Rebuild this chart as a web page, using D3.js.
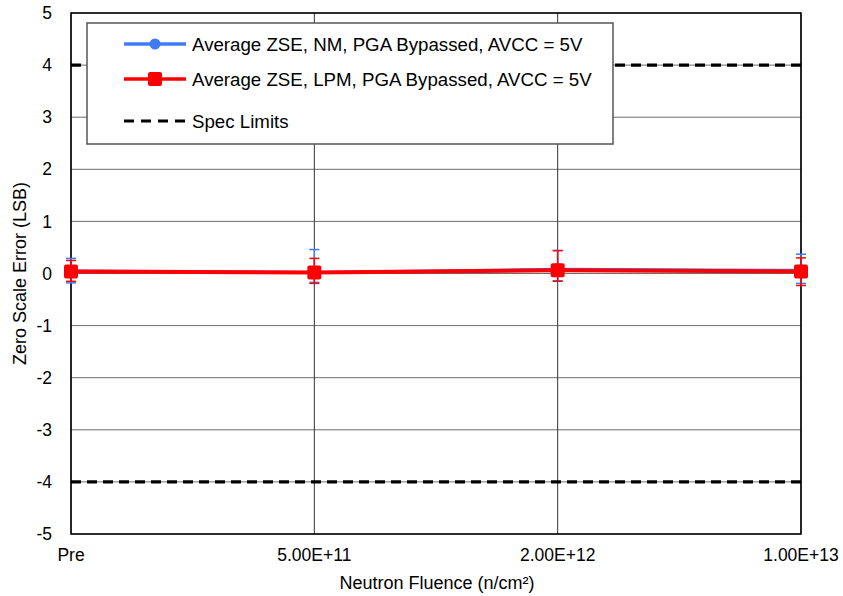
<!DOCTYPE html>
<html>
<head>
<meta charset="utf-8">
<script src="https://cdn.jsdelivr.net/npm/d3@7"></script>
<style>
  body { margin: 0; background: #fff; }
  text { font-family: "Liberation Sans", Arial, sans-serif; fill: #000; }
</style>
</head>
<body>
<div id="chart"></div>
<script>
var categories = ['Pre', '5.00E+11', '2.00E+12', '1.00E+13'];
var nmValues = [0.05, 0.02, 0.08, 0.06];
var nmUpper = [0.29, 0.46, 0.44, 0.37];
var nmLower = [-0.18, -0.17, -0.14, -0.19];
var lpmValues = [0.04, 0.02, 0.06, 0.04];
var lpmUpper = [0.25, 0.29, 0.44, 0.30];
var lpmLower = [-0.15, -0.19, -0.15, -0.23];
var specLimits = [4, -4];
var yTicks = [5, 4, 3, 2, 1, 0, -1, -2, -3, -4, -5];
var legendLabels = ['Average ZSE, NM, PGA Bypassed, AVCC = 5V',
                    'Average ZSE, LPM, PGA Bypassed, AVCC = 5V',
                    'Spec Limits'];

var margin = {top: 13, right: 42, bottom: 62, left: 71},
    width = 843 - margin.left - margin.right,
    height = 596 - margin.top - margin.bottom;

var svg = d3.select('#chart').append('svg')
    .attr('width', 843)
    .attr('height', 596)
    .append('g')
    .attr('transform', 'translate(' + margin.left + ',' + margin.top + ')');

var x = d3.scalePoint().domain(categories).range([0, width]);
var y = d3.scaleLinear().domain([-5, 5]).range([height, 0]);

// grid
svg.selectAll('.hgrid').data(yTicks).enter().append('line')
    .attr('x1', 0).attr('x2', width)
    .attr('y1', function(d){ return y(d); })
    .attr('y2', function(d){ return y(d); })
    .attr('stroke', '#6e6e6e').attr('stroke-width', 1);
svg.selectAll('.vgrid').data(categories).enter().append('line')
    .attr('x1', function(d){ return x(d); })
    .attr('x2', function(d){ return x(d); })
    .attr('y1', 0).attr('y2', height)
    .attr('stroke', '#333').attr('stroke-width', 1);

// frame
svg.append('rect').attr('width', width).attr('height', height)
    .attr('fill', 'none').attr('stroke', '#000').attr('stroke-width', 1.5);

// spec limits
svg.selectAll('.spec').data(specLimits).enter().append('line')
    .attr('x1', 0).attr('x2', width)
    .attr('y1', function(d){ return y(d); })
    .attr('y2', function(d){ return y(d); })
    .attr('stroke', '#000').attr('stroke-width', 3.2)
    .attr('stroke-dasharray', '10,6');

// axis labels
svg.selectAll('.ylab').data(yTicks).enter().append('text')
    .attr('x', -19).attr('y', function(d){ return y(d); })
    .attr('dy', '0.35em').attr('text-anchor', 'end')
    .style('font-size', '17.5px')
    .text(function(d){ return d; });
svg.selectAll('.xlab').data(categories).enter().append('text')
    .attr('x', function(d){ return x(d); })
    .attr('y', height + 27)
    .attr('text-anchor', 'middle')
    .style('font-size', '17.5px')
    .text(function(d){ return d; });

svg.append('text')
    .attr('x', width / 2 + 1).attr('y', height + 55)
    .attr('text-anchor', 'middle').style('font-size', '18px')
    .text('Neutron Fluence (n/cm²)');
svg.append('text')
    .attr('transform', 'translate(' + (-45) + ',' + (height / 2) + ') rotate(-90)')
    .attr('text-anchor', 'middle').style('font-size', '18px')
    .text('Zero Scale Error (LSB)');

function series(vals, up, lo, color, lw, marker){
    var g = svg.append('g');
    var line = d3.line()
        .x(function(d, i){ return x(categories[i]); })
        .y(function(d){ return y(d); });
    g.selectAll('.err').data(vals).enter().append('line')
        .attr('x1', function(d, i){ return x(categories[i]); })
        .attr('x2', function(d, i){ return x(categories[i]); })
        .attr('y1', function(d, i){ return y(up[i]); })
        .attr('y2', function(d, i){ return y(lo[i]); })
        .attr('stroke', color).attr('stroke-width', 1.5);
    [up, lo].forEach(function(arr){
        g.selectAll(null).data(arr).enter().append('line')
            .attr('x1', function(d, i){ return x(categories[i]) - 5; })
            .attr('x2', function(d, i){ return x(categories[i]) + 5; })
            .attr('y1', function(d){ return y(d); })
            .attr('y2', function(d){ return y(d); })
            .attr('stroke', color).attr('stroke-width', 1.5);
    });
    g.append('path').datum(vals)
        .attr('d', line).attr('fill', 'none')
        .attr('stroke', color).attr('stroke-width', lw);
    if (marker === 'circle') {
        g.selectAll('.m').data(vals).enter().append('circle')
            .attr('cx', function(d, i){ return x(categories[i]); })
            .attr('cy', function(d){ return y(d); })
            .attr('r', 6).attr('fill', color);
    } else {
        g.selectAll('.m').data(vals).enter().append('rect')
            .attr('x', function(d, i){ return x(categories[i]) - 7; })
            .attr('y', function(d){ return y(d) - 7; })
            .attr('width', 14).attr('height', 14).attr('rx', 2)
            .attr('fill', color);
    }
}

series(nmValues, nmUpper, nmLower, '#3f7cf4', 3, 'circle');
series(lpmValues, lpmUpper, lpmLower, '#ff0000', 4, 'square');

// legend
var legend = svg.append('g').attr('transform', 'translate(' + (87 - margin.left) + ',' + (23 - margin.top) + ')');
legend.append('rect').attr('width', 526).attr('height', 121)
    .attr('fill', '#fff').attr('stroke', '#555').attr('stroke-width', 1.5);
var rowsY = [21, 56, 98];
var colors = ['#3f7cf4', '#ff0000', '#000'];
legendLabels.forEach(function(lab, i){
    var r = legend.append('g').attr('transform', 'translate(0,' + rowsY[i] + ')');
    r.append('line').attr('x1', 37).attr('x2', 99).attr('y1', 0).attr('y2', 0)
        .attr('stroke', colors[i]).attr('stroke-width', i === 2 ? 3 : 3.5)
        .attr('stroke-dasharray', i === 2 ? '10,7' : null);
    if (i === 0) r.append('circle').attr('cx', 68).attr('cy', 0).attr('r', 5.5).attr('fill', colors[i]);
    if (i === 1) r.append('rect').attr('x', 61).attr('y', -7).attr('width', 14).attr('height', 14).attr('rx', 2).attr('fill', colors[i]);
    r.append('text').attr('x', 105).attr('y', 0).attr('dy', '0.35em')
        .style('font-size', '18.7px').text(lab);
});
</script>
</body>
</html>
